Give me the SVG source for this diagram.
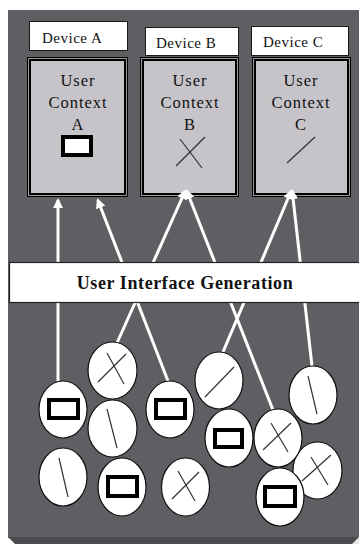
<svg xmlns="http://www.w3.org/2000/svg" width="359" height="544" viewBox="0 0 359 544">
  <defs>
    <marker id="head" viewBox="0 0 10 10" refX="8" refY="5" markerWidth="10" markerHeight="10" markerUnits="userSpaceOnUse" orient="auto">
      <path d="M0,0 L10,5 L0,10 z" fill="#ffffff"/>
    </marker>
    <style>
      .dev { fill: #ffffff; stroke: #1a1a1a; stroke-width: 1; }
      .devtxt { font-family: "Liberation Serif", "DejaVu Serif", serif; font-size: 15px; fill: #111; letter-spacing: 0.5px; }
      .ctx-out { fill: #9a999d; stroke: #000; stroke-width: 1; }
      .ctx-in { fill: #c6c4c8; stroke: #000; stroke-width: 2; }
      .ctxtxt { font-family: "Liberation Serif", "DejaVu Serif", serif; font-size: 16.5px; fill: #111; text-anchor: middle; letter-spacing: 1px; }
      .link { stroke: #ffffff; stroke-width: 3; fill: none; marker-end: url(#head); }
      .oval { fill: #ffffff; stroke: #111; stroke-width: 1.2; }
      .mark { stroke: #333; stroke-width: 1.2; fill: none; }
      .box { fill: #ffffff; stroke: #000; stroke-width: 4; }
      .bar { fill: #ffffff; stroke: #222; stroke-width: 1.2; }
      .bartxt { font-family: "Liberation Serif", "DejaVu Serif", serif; font-size: 18px; font-weight: bold; fill: #111; text-anchor: middle; letter-spacing: 0.6px; }
    </style>
  </defs>

  <!-- backdrop panel with bottom bevel -->
  <rect x="0" y="0" width="359" height="544" fill="#ffffff"/>
  <rect x="8" y="10" width="351" height="528" fill="#5f5e62"/>
  <polygon points="8,537 359,537 359,544 15,544" fill="#4b4a4e"/>
  <polygon points="352,544 359,537 359,544" fill="#e8e8e8"/>

  <!-- device labels -->
  <g id="device-a">
    <rect class="dev" x="29.5" y="21.5" width="98" height="29"/>
    <text class="devtxt" x="42" y="43">Device A</text>
  </g>
  <g id="device-b">
    <rect class="dev" x="145.5" y="27.5" width="93" height="28"/>
    <text class="devtxt" x="156" y="48">Device B</text>
  </g>
  <g id="device-c">
    <rect class="dev" x="251.5" y="26.5" width="97" height="29"/>
    <text class="devtxt" x="263" y="47">Device C</text>
  </g>

  <!-- user contexts -->
  <g id="context-a">
    <rect class="ctx-out" x="27.5" y="57.5" width="100" height="139"/>
    <rect class="ctx-in" x="30" y="60" width="95" height="134"/>
    <text class="ctxtxt" x="78" y="86">User</text>
    <text class="ctxtxt" x="78" y="108">Context</text>
    <text class="ctxtxt" x="78" y="130">A</text>
    <rect class="box" x="63" y="137" width="28" height="18"/>
  </g>
  <g id="context-b">
    <rect class="ctx-out" x="140.5" y="57.5" width="98" height="139"/>
    <rect class="ctx-in" x="143" y="60" width="93" height="134"/>
    <text class="ctxtxt" x="190" y="86">User</text>
    <text class="ctxtxt" x="190" y="108">Context</text>
    <text class="ctxtxt" x="190" y="130">B</text>
    <line class="mark" x1="176" y1="166" x2="205" y2="137"/>
    <line class="mark" x1="180" y1="139" x2="202" y2="168"/>
  </g>
  <g id="context-c">
    <rect class="ctx-out" x="252.5" y="57.5" width="98" height="139"/>
    <rect class="ctx-in" x="255" y="60" width="93" height="134"/>
    <text class="ctxtxt" x="301" y="86">User</text>
    <text class="ctxtxt" x="301" y="108">Context</text>
    <text class="ctxtxt" x="301" y="130">C</text>
    <line class="mark" x1="315" y1="137" x2="287" y2="163"/>
  </g>

  <!-- connectors from interface elements up to the contexts -->
  <g id="connectors">
    <line class="link" x1="58" y1="381" x2="58" y2="200"/>
    <line class="link" x1="168" y1="381" x2="97.8" y2="200"/>
    <line class="link" x1="117" y1="343" x2="185.2" y2="191"/>
    <line class="link" x1="273" y1="410" x2="186.8" y2="191"/>
    <line class="link" x1="223" y1="352" x2="291.2" y2="191"/>
    <line class="link" x1="312" y1="366" x2="292.2" y2="191"/>
  </g>

  <!-- generation bar -->
  <g id="ui-generation">
    <rect class="bar" x="9.5" y="262.5" width="352" height="40"/>
    <text class="bartxt" x="185" y="289">User Interface Generation</text>
  </g>

  <!-- interface elements -->
  <g id="el-x1">
    <ellipse class="oval" cx="112.5" cy="370.5" rx="24.5" ry="28.5"/>
    <line class="mark" x1="98" y1="382" x2="126" y2="354"/>
    <line class="mark" x1="107" y1="353" x2="124" y2="384"/>
  </g>
  <g id="el-rect1">
    <ellipse class="oval" cx="63" cy="409.5" rx="24" ry="28.5"/>
    <rect class="box" x="49" y="400" width="29" height="18"/>
  </g>
  <g id="el-back1">
    <ellipse class="oval" cx="112.5" cy="428.5" rx="24.5" ry="28.5"/>
    <line class="mark" x1="107" y1="409" x2="117" y2="448"/>
  </g>
  <g id="el-rect2">
    <ellipse class="oval" cx="170" cy="409.5" rx="24" ry="28.5"/>
    <rect class="box" x="156" y="400" width="29" height="18"/>
  </g>
  <g id="el-back2">
    <ellipse class="oval" cx="63" cy="477" rx="24" ry="29"/>
    <line class="mark" x1="59" y1="458" x2="68" y2="497"/>
  </g>
  <g id="el-rect3">
    <ellipse class="oval" cx="122" cy="487" rx="24" ry="29"/>
    <rect class="box" x="108" y="477" width="29" height="19"/>
  </g>
  <g id="el-x2">
    <ellipse class="oval" cx="185.5" cy="487" rx="24" ry="29"/>
    <line class="mark" x1="172" y1="499" x2="199" y2="472"/>
    <line class="mark" x1="178" y1="471" x2="195" y2="501"/>
  </g>
  <g id="el-slash1">
    <ellipse class="oval" cx="219" cy="380.5" rx="24" ry="28.5"/>
    <line class="mark" x1="234" y1="367" x2="205" y2="397"/>
  </g>
  <g id="el-rect4">
    <ellipse class="oval" cx="229" cy="438" rx="24" ry="29"/>
    <rect class="box" x="215" y="430" width="27" height="17"/>
  </g>
  <g id="el-back3">
    <ellipse class="oval" cx="313" cy="395" rx="24" ry="29"/>
    <line class="mark" x1="308" y1="376" x2="317" y2="414"/>
  </g>
  <g id="el-x3">
    <ellipse class="oval" cx="317.5" cy="470.5" rx="24.5" ry="28.5"/>
    <line class="mark" x1="302" y1="481" x2="331" y2="455"/>
    <line class="mark" x1="311" y1="457" x2="328" y2="485"/>
  </g>
  <g id="el-x4">
    <ellipse class="oval" cx="278" cy="438" rx="24" ry="29"/>
    <line class="mark" x1="263" y1="450" x2="291" y2="423"/>
    <line class="mark" x1="271" y1="423" x2="288" y2="452"/>
  </g>
  <g id="el-rect5">
    <ellipse class="oval" cx="280" cy="497" rx="24" ry="29"/>
    <rect class="box" x="265" y="487" width="30" height="19"/>
  </g>
</svg>
